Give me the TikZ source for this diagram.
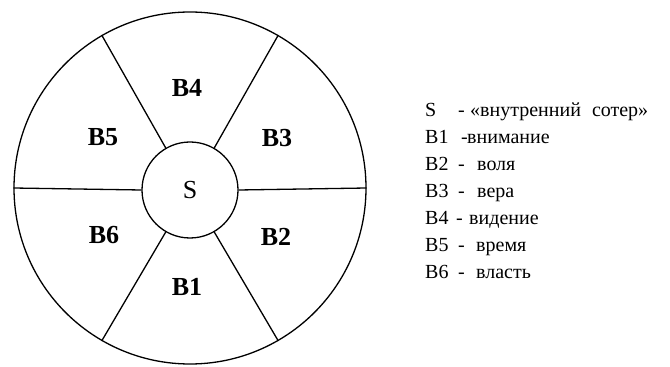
\documentclass[tikz,border=0pt]{standalone}
\usepackage{fontspec}
\setmainfont{Liberation Serif}
\begin{document}
\begin{tikzpicture}[x=1pt,y=1pt,
  ring/.style={draw,line width=1.3pt,circle,inner sep=0pt},
  spoke/.style={line width=1.3pt},
  sector/.style={font=\fontsize{26}{28}\selectfont\bfseries,inner sep=0pt},
  legend/.style={font=\fontsize{20}{22}\selectfont,anchor=base west,inner sep=0pt}]
\useasboundingbox (0,0) rectangle (670,367);
\node[ring,minimum size=352pt] (outer) at (190,179) {};
\node[ring,minimum size=96pt,font=\fontsize{26}{28}\selectfont] (S) at (190,177) {S};
\foreach \a in {0,60,120,180,240,300}
  \draw[spoke] (S.\a) -- (outer.\a);
\node[sector] (b4) at (187,279) {В4};
\node[sector] (b5) at (103,230) {В5};
\node[sector] (b3) at (277,229) {В3};
\node[sector] (b6) at (104,132) {В6};
\node[sector] (b2) at (276,130) {В2};
\node[sector] (b1) at (187,80) {В1};
\node[legend] (l0) at (425,250) {\makebox[33pt][l]{S}\makebox[12pt][l]{-}«внутренний\hspace{11pt}сотер»};
\node[legend] (l1) at (425,223) {\makebox[36pt][l]{В1}\makebox[6pt][l]{-}внимание};
\node[legend] (l2) at (425,196) {\makebox[33pt][l]{В2}\makebox[19pt][l]{-}воля};
\node[legend] (l3) at (425,169) {\makebox[33pt][l]{В3}\makebox[19pt][l]{-}вера};
\node[legend] (l4) at (425,142) {\makebox[31pt][l]{В4}\makebox[13pt][l]{-}видение};
\node[legend] (l5) at (425,115) {\makebox[33pt][l]{В5}\makebox[18pt][l]{-}время};
\node[legend] (l6) at (425,88) {\makebox[33pt][l]{В6}\makebox[18pt][l]{-}власть};
\end{tikzpicture}
\end{document}
